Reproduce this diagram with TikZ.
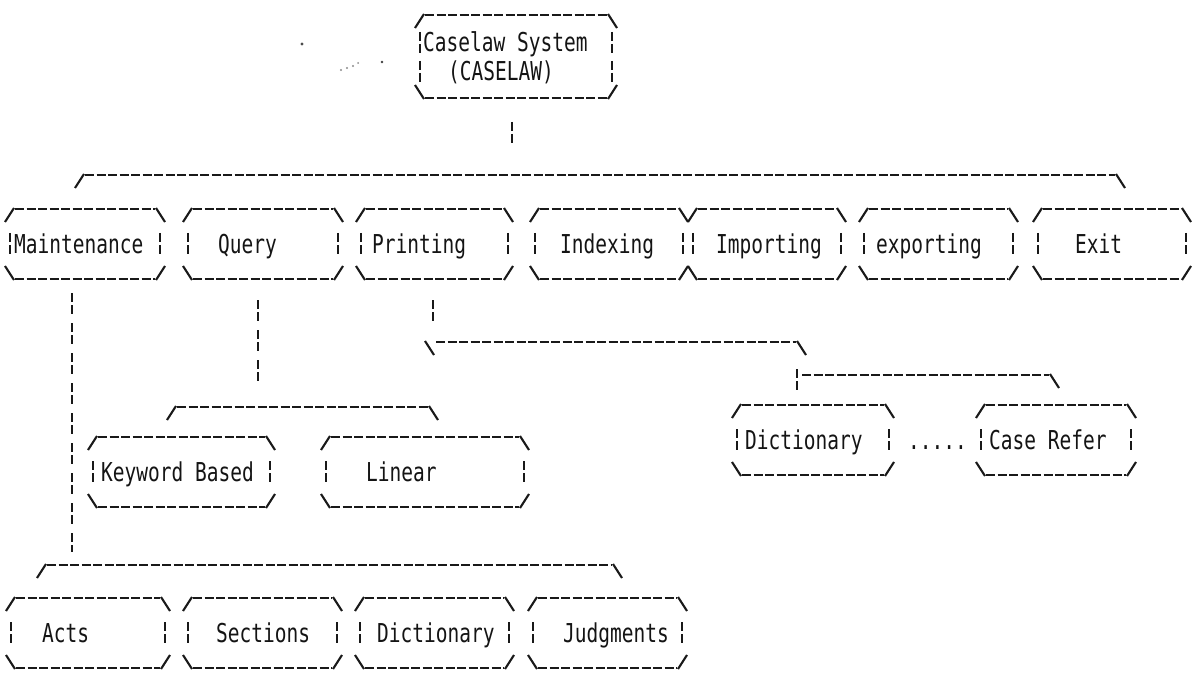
\documentclass[tikz,border=0pt]{standalone}
\usepackage{fontspec}
\newfontfamily\asciifont[FakeStretch=0.75]{DejaVu Sans Mono}
\begin{document}
\begin{tikzpicture}[x=1pt,y=-1pt,
  ink/.style={draw=black!90, line width=2.1pt},
  rule/.style={ink, dash pattern=on 9pt off 2.5pt},
  corner/.style={ink},
  vconn/.style={ink, dash pattern=on 9pt off 3pt on 9pt off 9pt},
  frame/.style={draw=none, inner sep=0pt, outer sep=0pt, minimum height=60pt},
  lbl/.style={anchor=base west, inner sep=0pt, text=black!92,
    font=\asciifont\fontsize{26}{26}\selectfont},
]
% page
\useasboundingbox (0,0) rectangle (1202,679);
\fill[white] (0,0) rectangle (1202,679);

% one broken bar glyph centred on a named point
\newcommand\bbar[1]{\draw[ink] ([yshift=11pt]#1) -- ([yshift=2pt]#1) ([yshift=-1pt]#1) -- ([yshift=-10pt]#1);}
% top and bottom rules of a box, with its slanted corners
\newcommand\boxrules[1]{%
  \draw[corner] ([xshift=-5pt,yshift=-8pt]#1.north west) -- ([xshift=4pt,yshift=6pt]#1.north west);
  \draw[rule] ([xshift=5pt,yshift=5pt]#1.north west) -- ([xshift=-5pt,yshift=5pt]#1.north east);
  \draw[corner] ([xshift=-4pt,yshift=6pt]#1.north east) -- ([xshift=5pt,yshift=-8pt]#1.north east);
  \draw[corner] ([xshift=-5pt,yshift=8pt]#1.south west) -- ([xshift=4pt,yshift=-6pt]#1.south west);
  \draw[rule] ([xshift=5pt,yshift=-5pt]#1.south west) -- ([xshift=-5pt,yshift=-5pt]#1.south east);
  \draw[corner] ([xshift=-4pt,yshift=-6pt]#1.south east) -- ([xshift=5pt,yshift=8pt]#1.south east);}
% a box with one line of text
\newcommand\onebox[1]{\boxrules{#1}\bbar{#1.west}\bbar{#1.east}}
% a bracket rule: slash, dashes, backslash
\newcommand\groupbar[2]{%
  \draw[corner] ([xshift=-5pt,yshift=-8pt]#1) -- ([xshift=4pt,yshift=6pt]#1);
  \draw[rule] ([xshift=5pt,yshift=5pt]#1) -- ([xshift=-5pt,yshift=5pt]#2);
  \draw[corner] ([xshift=-4pt,yshift=6pt]#2) -- ([xshift=5pt,yshift=-8pt]#2);}

% ---- root
\node[frame, minimum width=192pt, minimum height=73pt] (root) at (516,56.5) {};
\boxrules{root}
\coordinate (rootL1) at ([yshift=-23pt]root.north west);
\coordinate (rootL2) at ([yshift=-52pt]root.north west);
\coordinate (rootR1) at ([yshift=-23pt]root.north east);
\coordinate (rootR2) at ([yshift=-52pt]root.north east);
\bbar{rootL1}\bbar{rootL2}\bbar{rootR1}\bbar{rootR2}
\node[lbl] (root-t1) at (423,52) {Caselaw System};
\node[lbl] (root-t2) at (448,81) {(CASELAW)};

% specks
\fill[black!70] (302,44) circle (1.6pt);
\fill[black!45] (341,70) circle (1.2pt) (347,68) circle (1.2pt) (353,66) circle (1.1pt) (358,63) circle (1pt);
\fill[black!75] (382,62) circle (1.4pt);

% ---- main menu
\foreach \n/\c/\w in {maint/85/150, query/263/150, print/434.5/147, index/609/148,
                      import/767/148, export/938.5/149, exit/1112/148}
  {\node[frame, minimum width=\w pt] (\n) at (\c,244) {};}
\foreach \n in {maint,query,print,index,import,export,exit} {\onebox{\n}}
\node[lbl] (maint-t) at (14,253) {Maintenance};
\node[lbl] (query-t) at (218,253) {Query};
\node[lbl] (print-t) at (372,253) {Printing};
\node[lbl] (index-t) at (560,253) {Indexing};
\node[lbl] (import-t) at (716,253) {Importing};
\node[lbl] (export-t) at (876,253) {exporting};
\node[lbl] (exit-t) at (1075,253) {Exit};

% root to menu
\coordinate (rootdrop-a) at (512,122);
\coordinate (rootdrop-b) at (512,144);
\draw[vconn] (rootdrop-a) -- (rootdrop-b);
\coordinate (tbL) at (80,180);
\coordinate (tbR) at (1120,180);
\groupbar{tbL}{tbR}

% ---- query branch
\coordinate (qd-a) at (258,300);
\coordinate (qd-b) at (258,381);
\draw[vconn] (qd-a) -- (qd-b);
\coordinate (qbL) at (172,412);
\coordinate (qbR) at (433,412);
\groupbar{qbL}{qbR}
\node[frame, minimum width=177pt] (kw) at (181.5,472) {};
\node[frame, minimum width=198pt] (lin) at (425,472) {};
\onebox{kw}\onebox{lin}
\node[lbl] (kw-t) at (101,481) {Keyword Based};
\node[lbl] (lin-t) at (366,481) {Linear};

% ---- printing branch
\coordinate (pd) at (433,311);
\bbar{pd}
\coordinate (ps1L) at (430,347);
\coordinate (ps1R) at (801,347);
\draw[corner] ([xshift=-5pt,yshift=6pt]ps1L) -- ([xshift=4pt,yshift=-8pt]ps1L);
\draw[rule] ([xshift=6pt,yshift=5pt]ps1L) -- ([xshift=-5pt,yshift=5pt]ps1R);
\draw[corner] ([xshift=-4pt,yshift=6pt]ps1R) -- ([xshift=5pt,yshift=-8pt]ps1R);
\coordinate (ps2L) at (797,380);
\coordinate (ps2R) at (1054,380);
\bbar{ps2L}
\draw[rule] ([xshift=5pt,yshift=5pt]ps2L) -- ([xshift=-5pt,yshift=5pt]ps2R);
\draw[corner] ([xshift=-4pt,yshift=6pt]ps2R) -- ([xshift=5pt,yshift=-8pt]ps2R);
\node[frame, minimum width=152pt] (pdict) at (813,440) {};
\node[frame, minimum width=150pt] (pcase) at (1056,440) {};
\onebox{pdict}\onebox{pcase}
\node[lbl] (pdict-t) at (745,449) {Dictionary};
\node[lbl] (pdots) at (908,449) {.....};
\node[lbl] (pcase-t) at (989,449) {Case Refer};

% ---- maintenance branch
\coordinate (md-a) at (72,293);
\coordinate (md-b) at (72,552);
\draw[vconn] (md-a) -- (md-b);
\coordinate (mbL) at (42,570);
\coordinate (mbR) at (617,570);
\groupbar{mbL}{mbR}
\foreach \n/\c/\w in {acts/88/154, sect/262.5/149, mdict/434.5/149, judg/607.5/149}
  {\node[frame, minimum width=\w pt] (\n) at (\c,633) {};}
\foreach \n in {acts,sect,mdict,judg} {\onebox{\n}}
\node[lbl] (acts-t) at (42,642) {Acts};
\node[lbl] (sect-t) at (216,642) {Sections};
\node[lbl] (mdict-t) at (377,642) {Dictionary};
\node[lbl] (judg-t) at (563,642) {Judgments};
\end{tikzpicture}
\end{document}
